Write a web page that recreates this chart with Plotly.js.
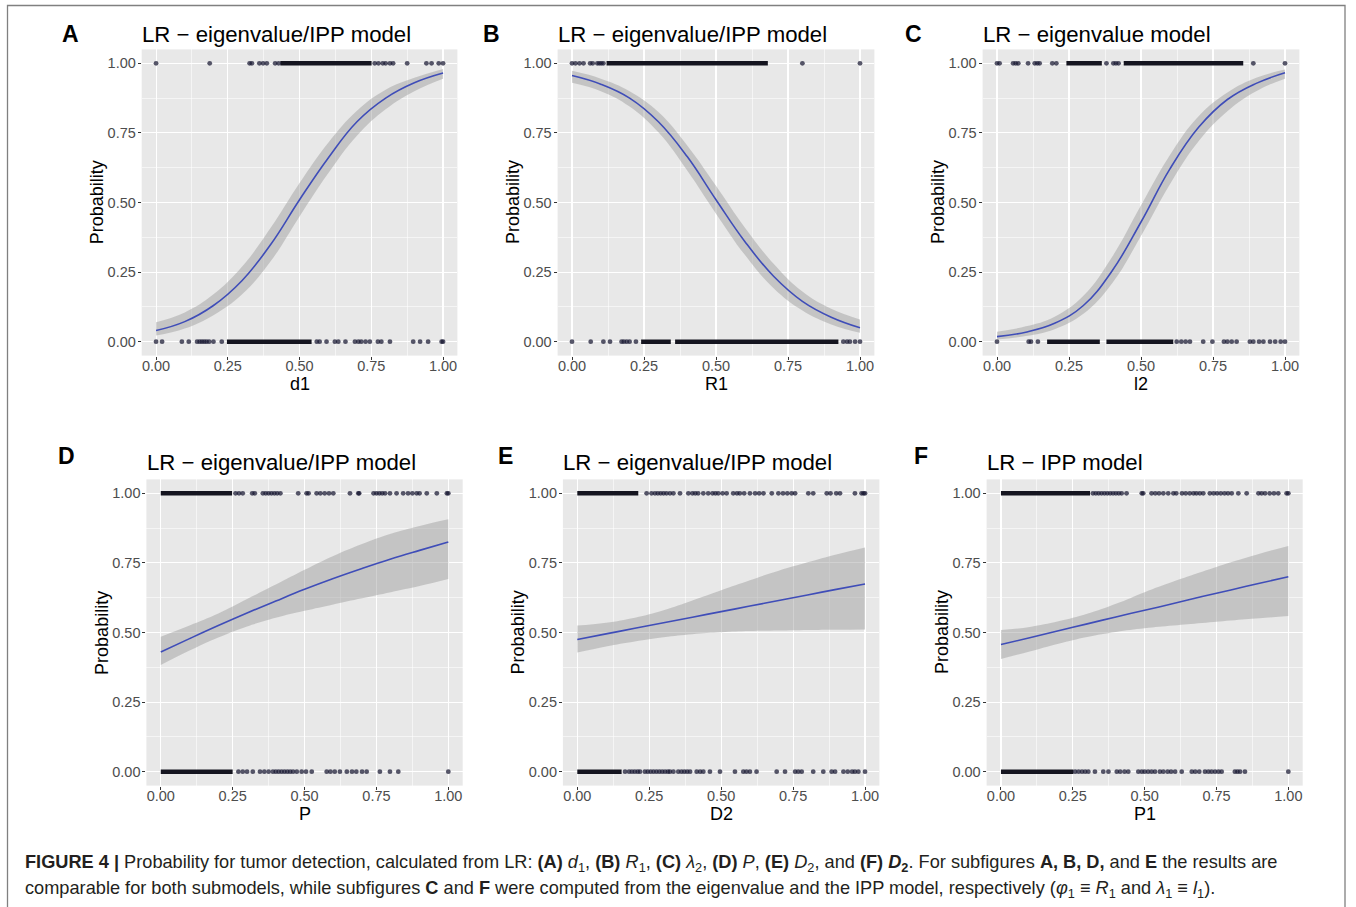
<!DOCTYPE html>
<html>
<head>
<meta charset="utf-8">
<script src="https://cdn.plot.ly/plotly-3.0.1.min.js"></script>
<style>html,body{margin:0;padding:0;background:#fff;}#chart{width:1356px;height:907px;}</style>
</head>
<body>
<div id="chart"></div>
<script>
// ---------- DATA ----------
const gridX = [0, 0.1, 0.2, 0.3, 0.4, 0.5, 0.6, 0.7, 0.8, 0.9, 1.0];

const panelLetters = ["A", "B", "C", "D", "E", "F"];
const panelTitles = ["LR − eigenvalue/IPP model", "LR − eigenvalue/IPP model", "LR − eigenvalue model",
                     "LR − eigenvalue/IPP model", "LR − eigenvalue/IPP model", "LR − IPP model"];
const xTitles = ["d1", "R1", "l2", "P", "D2", "P1"];
const yTitle = "Probability";

// fitted probability curves
const fitA = [0.040, 0.072, 0.13, 0.22, 0.35, 0.51, 0.66, 0.79, 0.875, 0.93, 0.965];
const fitB = [0.956, 0.925, 0.875, 0.79, 0.665, 0.51, 0.36, 0.235, 0.145, 0.088, 0.05];
const fitC = [0.018, 0.034, 0.066, 0.13, 0.255, 0.43, 0.62, 0.77, 0.87, 0.928, 0.966];
const fitD = [0.43, 0.478, 0.525, 0.57, 0.613, 0.655, 0.694, 0.73, 0.764, 0.795, 0.825];
const fitE = [0.475, 0.495, 0.515, 0.535, 0.555, 0.575, 0.595, 0.615, 0.635, 0.655, 0.674];
const fitF = [0.457, 0.481, 0.506, 0.531, 0.556, 0.58, 0.604, 0.629, 0.653, 0.677, 0.70];

// confidence band lower / upper
const loA = [0.022, 0.047, 0.095, 0.17, 0.29, 0.45, 0.605, 0.74, 0.835, 0.9, 0.945];
const hiA = [0.07, 0.105, 0.17, 0.27, 0.41, 0.57, 0.715, 0.83, 0.905, 0.948, 0.98];
const loB = [0.93, 0.90, 0.845, 0.752, 0.615, 0.46, 0.312, 0.192, 0.112, 0.062, 0.032];
const hiB = [0.973, 0.945, 0.90, 0.825, 0.705, 0.56, 0.41, 0.28, 0.18, 0.118, 0.08];
const loC = [0.008, 0.02, 0.045, 0.10, 0.21, 0.38, 0.565, 0.72, 0.828, 0.9, 0.945];
const hiC = [0.036, 0.055, 0.09, 0.165, 0.305, 0.49, 0.67, 0.81, 0.895, 0.948, 0.978];
const loD = [0.383, 0.435, 0.482, 0.522, 0.553, 0.578, 0.601, 0.623, 0.645, 0.667, 0.692];
const hiD = [0.485, 0.525, 0.568, 0.62, 0.672, 0.725, 0.775, 0.818, 0.855, 0.883, 0.907];
const loE = [0.428, 0.45, 0.468, 0.483, 0.494, 0.501, 0.505, 0.507, 0.509, 0.51, 0.511];
const hiE = [0.525, 0.535, 0.553, 0.58, 0.615, 0.652, 0.688, 0.722, 0.752, 0.78, 0.805];
const loF = [0.405, 0.432, 0.46, 0.484, 0.502, 0.515, 0.525, 0.534, 0.543, 0.551, 0.559];
const hiF = [0.509, 0.52, 0.54, 0.567, 0.603, 0.645, 0.683, 0.718, 0.752, 0.783, 0.811];

// observations: dense runs [start, end] and single points, at outcome 1 and 0
const runs1A = [[0.433, 0.751]];
const pts1A = [0, 0.187, 0.326, 0.334, 0.36, 0.373, 0.386, 0.415, 0.427, 0.762, 0.775, 0.79, 0.80, 0.815, 0.826, 0.875, 0.942, 0.96, 0.985, 1.0];
const runs0A = [[0.247, 0.542]];
const pts0A = [0, 0.021, 0.09, 0.114, 0.143, 0.152, 0.16, 0.168, 0.176, 0.185, 0.2, 0.229, 0.56, 0.57, 0.594, 0.623, 0.635, 0.66, 0.693, 0.705, 0.715, 0.73, 0.745, 0.773, 0.785, 0.815, 0.896, 0.92, 0.948, 0.995, 1.0];

const runs1B = [[0.12, 0.68]];
const pts1B = [0, 0.012, 0.026, 0.04, 0.063, 0.072, 0.088, 0.095, 0.102, 0.109, 0.80, 1.0];
const runs0B = [[0.24, 0.343], [0.358, 0.925]];
const pts0B = [0, 0.065, 0.109, 0.132, 0.172, 0.18, 0.19, 0.2, 0.222, 0.942, 0.955, 0.965, 0.983, 1.0];

const runs1C = [[0.241, 0.364], [0.44, 0.855]];
const pts1C = [0, 0.009, 0.056, 0.065, 0.074, 0.108, 0.131, 0.14, 0.148, 0.192, 0.206, 0.38, 0.404, 0.413, 0.422, 0.89, 1.0];
const runs0C = [[0.174, 0.357], [0.38, 0.612]];
const pts0C = [0, 0.11, 0.118, 0.142, 0.624, 0.64, 0.655, 0.67, 0.716, 0.748, 0.788, 0.80, 0.815, 0.832, 0.878, 0.89, 0.91, 0.925, 0.948, 0.966, 0.985, 1.0];

const runs1D = [[0, 0.248]];
const pts1D = [0.26, 0.272, 0.285, 0.318, 0.327, 0.355, 0.365, 0.375, 0.385, 0.395, 0.405, 0.416, 0.478, 0.507, 0.514, 0.542, 0.555, 0.57, 0.585, 0.6, 0.658, 0.687, 0.69, 0.74, 0.75, 0.76, 0.77, 0.78, 0.797, 0.82, 0.843, 0.86, 0.875, 0.89, 0.9, 0.925, 0.96, 0.995, 1.0];
const runs0D = [[0, 0.25]];
const pts0D = [0.27, 0.285, 0.3, 0.32, 0.345, 0.36, 0.375, 0.39, 0.4, 0.41, 0.42, 0.43, 0.44, 0.45, 0.46, 0.473, 0.49, 0.505, 0.525, 0.577, 0.59, 0.605, 0.623, 0.647, 0.665, 0.68, 0.7, 0.716, 0.762, 0.797, 0.826, 1.0];

const runs1E = [[0, 0.212]];
const pts1E = [0.241, 0.258, 0.27, 0.28, 0.29, 0.3, 0.31, 0.322, 0.334, 0.357, 0.386, 0.4, 0.41, 0.42, 0.438, 0.455, 0.47, 0.48, 0.49, 0.505, 0.519, 0.542, 0.555, 0.565, 0.58, 0.6, 0.618, 0.632, 0.647, 0.676, 0.699, 0.715, 0.73, 0.745, 0.757, 0.803, 0.82, 0.867, 0.88, 0.9, 0.913, 0.965, 0.988, 0.995, 1.0];
const runs0E = [[0, 0.154]];
const pts0E = [0.166, 0.18, 0.19, 0.2, 0.21, 0.218, 0.235, 0.245, 0.255, 0.265, 0.275, 0.285, 0.295, 0.305, 0.315, 0.322, 0.334, 0.351, 0.362, 0.372, 0.382, 0.392, 0.415, 0.427, 0.438, 0.461, 0.496, 0.548, 0.577, 0.588, 0.6, 0.623, 0.693, 0.722, 0.757, 0.768, 0.78, 0.82, 0.855, 0.884, 0.896, 0.925, 0.94, 0.955, 0.965, 0.977, 1.0];

const runs1F = [[0, 0.31]];
const pts1F = [0.32, 0.33, 0.34, 0.35, 0.36, 0.37, 0.38, 0.39, 0.4, 0.41, 0.42, 0.437, 0.49, 0.495, 0.524, 0.537, 0.55, 0.565, 0.582, 0.6, 0.61, 0.63, 0.643, 0.657, 0.67, 0.68, 0.692, 0.704, 0.727, 0.74, 0.752, 0.765, 0.778, 0.79, 0.803, 0.826, 0.855, 0.896, 0.907, 0.919, 0.935, 0.95, 0.965, 0.994, 1.0];
const runs0F = [[0, 0.252]];
const pts0F = [0.258, 0.27, 0.282, 0.293, 0.304, 0.327, 0.356, 0.374, 0.403, 0.415, 0.43, 0.443, 0.478, 0.49, 0.5, 0.512, 0.524, 0.536, 0.553, 0.565, 0.58, 0.592, 0.606, 0.629, 0.664, 0.676, 0.69, 0.71, 0.722, 0.733, 0.745, 0.757, 0.768, 0.814, 0.823, 0.832, 0.849, 1.0];

const captionLine1 = "<b>FIGURE 4 |</b> Probability for tumor detection, calculated from LR: <b>(A)</b> <i>d</i><sub>1</sub>, <b>(B)</b> <i>R</i><sub>1</sub>, <b>(C)</b> <i>λ</i><sub>2</sub>, <b>(D)</b> <i>P</i>, <b>(E)</b> <i>D</i><sub>2</sub>, and <b>(F)</b> <b><i>D</i><sub>2</sub></b>. For subfigures <b>A, B, D,</b> and <b>E</b> the results are";
const captionLine2 = "comparable for both submodels, while subfigures <b>C</b> and <b>F</b> were computed from the eigenvalue and the IPP model, respectively (<i>φ</i><sub>1</sub> ≡ <i>R</i><sub>1</sub> and <i>λ</i><sub>1</sub> ≡ <i>l</i><sub>1</sub>).";

// ---------- LAYOUT / DRAWING ----------
const W = 1356, H = 907;
const FONT = "Liberation Sans, Arial, Helvetica, sans-serif";
const panels = [
  {fit: fitA, lo: loA, hi: hiA, r1: runs1A, p1: pts1A, r0: runs0A, p0: pts0A, L: 141.7, R: 457.4, T: 49.4, B: 355.6, letX: 70, letY: 34, titY: 34},
  {fit: fitB, lo: loB, hi: hiB, r1: runs1B, p1: pts1B, r0: runs0B, p0: pts0B, L: 557.6, R: 874.4, T: 49.4, B: 355.6, letX: 491, letY: 34, titY: 34},
  {fit: fitC, lo: loC, hi: hiC, r1: runs1C, p1: pts1C, r0: runs0C, p0: pts0C, L: 982.6, R: 1299.4, T: 49.4, B: 355.6, letX: 913, letY: 34, titY: 34},
  {fit: fitD, lo: loD, hi: hiD, r1: runs1D, p1: pts1D, r0: runs0D, p0: pts0D, L: 146.4, R: 462.7, T: 479.4, B: 785.6, letX: 66, letY: 456, titY: 462},
  {fit: fitE, lo: loE, hi: hiE, r1: runs1E, p1: pts1E, r0: runs0E, p0: pts0E, L: 562.9, R: 879.4, T: 479.4, B: 785.6, letX: 505, letY: 456, titY: 462},
  {fit: fitF, lo: loF, hi: hiF, r1: runs1F, p1: pts1F, r0: runs0F, p0: pts0F, L: 986.6, R: 1302.7, T: 479.4, B: 785.6, letX: 921, letY: 456, titY: 462}
];

function runXY(runs, yv) {
  const x = [], y = [];
  runs.forEach(r => { x.push(r[0], r[1], null); y.push(yv, yv, null); });
  return {x, y};
}

const data = [];
const layout = {
  width: W, height: H,
  margin: {l: 0, r: 0, t: 0, b: 0},
  paper_bgcolor: "#ffffff",
  plot_bgcolor: "#E8E8E8",
  showlegend: false,
  font: {family: FONT, color: "#000"},
  annotations: [],
  shapes: [{
    type: "rect", xref: "paper", yref: "paper",
    x0: 7.5 / W, x1: 1345 / W, y0: -0.05, y1: 1 - 5.5 / H,
    line: {color: "#808080", width: 1.3}, fillcolor: "rgba(0,0,0,0)", layer: "above"
  }]
};

const ptColor = "rgba(22,22,48,0.72)";
const runColor = "rgba(8,8,20,0.95)";

panels.forEach((p, i) => {
  const n = i + 1;
  const xa = n === 1 ? "x" : "x" + n;
  const ya = n === 1 ? "y" : "y" + n;
  const xk = n === 1 ? "xaxis" : "xaxis" + n;
  const yk = n === 1 ? "yaxis" : "yaxis" + n;

  const axisCommon = {
    range: [-0.05, 1.05], tickmode: "linear", tick0: 0, dtick: 0.25, tickformat: ".2f",
    showgrid: true, gridcolor: "#ffffff", gridwidth: 1.1, zeroline: false, showline: false,
    ticks: "outside", ticklen: 3, tickwidth: 1, tickcolor: "#333333",
    tickfont: {family: FONT, size: 14.5, color: "#4D4D4D"},
    minor: {tick0: 0, dtick: 0.125, showgrid: true, gridcolor: "#ffffff", gridwidth: 0.55, ticks: ""},
    fixedrange: true
  };
  layout[xk] = Object.assign({}, axisCommon, {domain: [p.L / W, p.R / W], anchor: ya, ticklabelstandoff: -6});
  layout[yk] = Object.assign({}, axisCommon, {domain: [1 - p.B / H, 1 - p.T / H], anchor: xa, ticklabelstandoff: -1});

  // confidence band
  data.push({x: gridX, y: p.hi, xaxis: xa, yaxis: ya, type: "scatter", mode: "lines",
             line: {width: 0, shape: "spline", smoothing: 1.2, color: "rgba(0,0,0,0)"}, hoverinfo: "skip"});
  data.push({x: gridX, y: p.lo, xaxis: xa, yaxis: ya, type: "scatter", mode: "lines",
             line: {width: 0, shape: "spline", smoothing: 1.2, color: "rgba(0,0,0,0)"}, fill: "tonexty",
             fillcolor: "rgba(153,153,153,0.45)", hoverinfo: "skip"});
  // fitted curve
  data.push({x: gridX, y: p.fit, xaxis: xa, yaxis: ya, type: "scatter", mode: "lines",
             line: {width: 1.6, shape: "spline", smoothing: 1.2, color: "#3F4DB8"}});
  // observations
  const r1 = runXY(p.r1, 1), r0 = runXY(p.r0, 0);
  data.push({x: r1.x, y: r1.y, xaxis: xa, yaxis: ya, type: "scatter", mode: "lines",
             line: {width: 4.4, color: runColor}, connectgaps: false});
  data.push({x: r0.x, y: r0.y, xaxis: xa, yaxis: ya, type: "scatter", mode: "lines",
             line: {width: 4.4, color: runColor}, connectgaps: false});
  data.push({x: p.p1, y: p.p1.map(() => 1), xaxis: xa, yaxis: ya, type: "scatter", mode: "markers",
             marker: {size: 4.8, color: ptColor, line: {width: 0}}});
  data.push({x: p.p0, y: p.p0.map(() => 0), xaxis: xa, yaxis: ya, type: "scatter", mode: "markers",
             marker: {size: 4.8, color: ptColor, line: {width: 0}}});

  // panel letter
  layout.annotations.push({text: "<b>" + panelLetters[i] + "</b>", xref: "paper", yref: "paper",
    x: p.letX / W, y: 1 - p.letY / H, xanchor: "center", yanchor: "middle", showarrow: false,
    font: {family: FONT, size: 23, color: "#000"}});
  // title
  layout.annotations.push({text: panelTitles[i], xref: "paper", yref: "paper",
    x: (p.L - 1.5) / W, y: 1 - p.titY / H, xanchor: "left", yanchor: "middle", showarrow: false,
    font: {family: FONT, size: 22.2, color: "#000"}});
  // y-axis title
  layout.annotations.push({text: yTitle, xref: "paper", yref: "paper",
    x: (p.L - 45) / W, y: 1 - ((p.T + p.B) / 2) / H, xanchor: "center", yanchor: "middle",
    textangle: -90, showarrow: false, font: {family: FONT, size: 18, color: "#000"}});
  // x-axis title
  layout.annotations.push({text: xTitles[i], xref: "paper", yref: "paper",
    x: ((p.L + p.R) / 2) / W, y: 1 - (p.B + 28) / H, xanchor: "center", yanchor: "middle",
    showarrow: false, font: {family: FONT, size: 18, color: "#000"}});
});

// caption
layout.annotations.push({text: captionLine1, xref: "paper", yref: "paper", x: 23 / W, y: 1 - 863 / H,
  xanchor: "left", yanchor: "middle", showarrow: false, align: "left",
  font: {family: FONT, size: 18.2, color: "#231F20"}});
layout.annotations.push({text: captionLine2, xref: "paper", yref: "paper", x: 23 / W, y: 1 - 889 / H,
  xanchor: "left", yanchor: "middle", showarrow: false, align: "left",
  font: {family: FONT, size: 18.2, color: "#231F20"}});

Plotly.newPlot("chart", data, layout, {staticPlot: true, displayModeBar: false});
</script>
</body>
</html>
